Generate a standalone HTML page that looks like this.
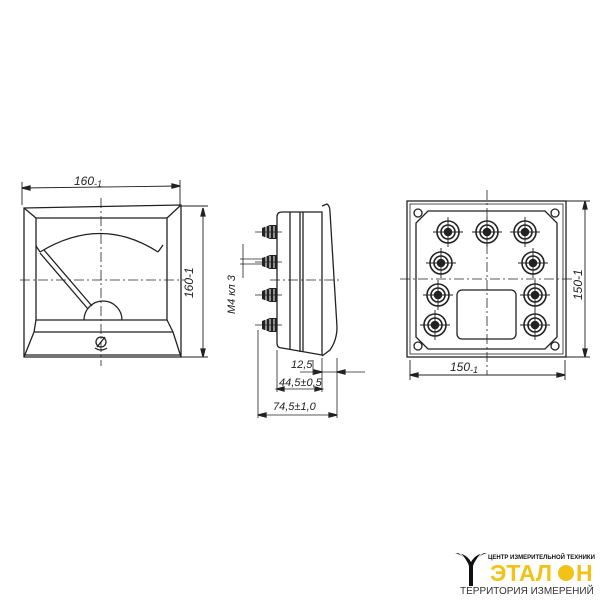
<!DOCTYPE html>
<html><head><meta charset="utf-8"><style>
html,body{margin:0;padding:0;background:#fff}
svg{display:block}
text{font-family:"Liberation Sans","DejaVu Sans",sans-serif;font-style:italic;fill:#222}
text.n{font-style:normal}
</style></head><body>
<svg width="600" height="600" viewBox="0 0 600 600" xmlns="http://www.w3.org/2000/svg">
<g stroke="#222" stroke-width="1.3" fill="none">
<!-- FRONT VIEW -->
<path d="M24 208 L181 205 L181 357 L24 357 Z"/>
<path d="M24 355 L181 355"/>
<path d="M36 218 L167 218 L167 320 L36 320 Z"/>
<path d="M24 208 L36 218 M181 205 L167 218"/>
<path d="M24 357 L34 332 L173 332 L181 357 M36 320 L34 332 M167 320 L173 332"/>
<path d="M40 252 Q101 215 158 252 M40 252 L36 246 M158 252 L163 245"/>
<path d="M40 253 L88 309 M44 250 L92 306"/>
<path d="M84 320 A19 19 0 0 1 122 320"/>
<circle cx="101" cy="342" r="5"/>
<path d="M97 347 L105 337 M95 348 Q101 352 107 348"/>
<g stroke-width="0.8" stroke-dasharray="10 3 2 3">
<path d="M101 198 L101 366"/><path d="M20 280 L185 280"/>
</g>
<path d="M22 188 L180 186 M22 182 L22 205 M180 180 L180 205" stroke-width="0.9"/>
<path d="M22 188 l8 -2 l0 4 Z M180 186 l-8 -2 l0 4 Z" fill="#222"/>
<path d="M203 208 L203 357 M181 206 L208 206 M181 357 L208 357" stroke-width="0.9"/>
<path d="M203 208 l-2 8 l4 0 Z M203 357 l-2 -8 l4 0 Z" fill="#222"/>

<!-- SIDE VIEW -->
<path d="M282 212 L322 212 L322 355 L282 348 Q277 348 277 343 L277 217 Q277 212 282 212 Z"/>
<path d="M290 212 L290 350 M300 212 L300 352 M303 212 L303 352"/>
<path d="M322 206 L327 204 Q330 206 330 212 L337 327 Q337 340 330 350 L322 356"/>
<g fill="#222" stroke="none">
<path d="M262 228 L270 225 L277 225 L277 239 L270 239 L262 236 Z"/>
<path d="M262 258 L270 255 L277 255 L277 269 L270 269 L262 266 Z"/>
<path d="M262 291 L270 288 L277 288 L277 302 L270 302 L262 299 Z"/>
<path d="M262 321 L270 318 L277 318 L277 332 L270 332 L262 329 Z"/>
</g>
<g stroke="#fff" stroke-width="1">
<path d="M266 226 v12 M270 226 v12 M274 226 v12 M266 256 v12 M270 256 v12 M274 256 v12 M266 289 v12 M270 289 v12 M274 289 v12 M266 319 v12 M270 319 v12 M274 319 v12"/>
</g>
<path d="M255 232 L282 232 M255 262 L282 262 M255 295 L282 295 M255 325 L282 325" stroke-width="0.8"/>
<path d="M270 280 L340 280" stroke-width="0.8" stroke-dasharray="10 3 2 3"/>
<path d="M243 244 L243 278 M240 259 L262 259 M240 264 L262 264" stroke-width="0.8"/>
<path d="M258 330 L258 418 M277 350 L277 392 M337 358 L337 418 M322 358 L322 392 M313 360 L313 375" stroke-width="0.8"/>
<path d="M300 372 L365 372 M277 389 L322 389 M258 415 L337 415" stroke-width="0.8"/>
<path d="M322 372 l-8 -2 l0 4 Z M337 372 l8 -2 l0 4 Z M277 389 l7 -2 l0 4 Z M322 389 l-7 -2 l0 4 Z M258 415 l8 -2 l0 4 Z M337 415 l-8 -2 l0 4 Z" fill="#222"/>

<!-- REAR VIEW -->
<rect x="407" y="201" width="159" height="156"/>
<rect x="410" y="204" width="153" height="150" stroke-width="0.8"/>
<path d="M428 211 L545 211 L557 223 L557 337 L545 349 L428 349 L416 337 L416 223 Z"/>
<circle cx="418" cy="213" r="4"/><circle cx="555" cy="213" r="4"/>
<circle cx="418" cy="346" r="4"/><circle cx="555" cy="346" r="4"/>
<rect x="457" y="290" width="59" height="49" rx="5"/>
<g stroke-width="1.6">
<circle cx="448" cy="232" r="11"/><circle cx="448" cy="232" r="7"/><circle cx="448" cy="232" r="3.5" fill="#222"/>
<circle cx="487" cy="232" r="11"/><circle cx="487" cy="232" r="7"/><circle cx="487" cy="232" r="3.5" fill="#222"/>
<circle cx="525" cy="232" r="11"/><circle cx="525" cy="232" r="7"/><circle cx="525" cy="232" r="3.5" fill="#222"/>
<circle cx="441" cy="263" r="11"/><circle cx="441" cy="263" r="7"/><circle cx="441" cy="263" r="3.5" fill="#222"/>
<circle cx="533" cy="263" r="11"/><circle cx="533" cy="263" r="7"/><circle cx="533" cy="263" r="3.5" fill="#222"/>
<circle cx="438" cy="295" r="11"/><circle cx="438" cy="295" r="7"/><circle cx="438" cy="295" r="3.5" fill="#222"/>
<circle cx="535" cy="295" r="11"/><circle cx="535" cy="295" r="7"/><circle cx="535" cy="295" r="3.5" fill="#222"/>
<circle cx="435" cy="325" r="11"/><circle cx="435" cy="325" r="7"/><circle cx="435" cy="325" r="3.5" fill="#222"/>
<circle cx="535" cy="325" r="11"/><circle cx="535" cy="325" r="7"/><circle cx="535" cy="325" r="3.5" fill="#222"/>
</g>
<path d="M433 232h30M448 217v30M472 232h30M487 217v30M510 232h30M525 217v30M426 263h30M441 248v30M518 263h30M533 248v30M423 295h30M438 280v30M520 295h30M535 280v30M420 325h30M435 310v30M520 325h30M535 310v30" stroke-width="0.9"/>
<g stroke-width="0.8" stroke-dasharray="10 3 2 3">
<path d="M487 190 L487 375"/><path d="M400 279 L575 279"/>
</g>
<path d="M410 375 L565 375 M410 360 L410 380 M565 360 L565 380 M585 201 L585 357 M566 201 L590 201 M566 357 L590 357" stroke-width="0.9"/>
<path d="M410 375 l8 -2 l0 4 Z M565 375 l-8 -2 l0 4 Z M585 201 l-2 8 l4 0 Z M585 357 l-2 -8 l4 0 Z" fill="#222"/>
</g>
<text x="74" y="185" font-size="12">160<tspan font-size="9" dy="2">-1</tspan></text>
<text transform="translate(193,298) rotate(-90)" font-size="12">160-1</text>
<text transform="translate(235,314) rotate(-90)" font-size="11">М4 кл 3</text>
<text x="291" y="368" font-size="11">12,5</text>
<text x="279" y="386" font-size="11">44,5±0,5</text>
<text x="273" y="410" font-size="11">74,5±1,0</text>
<text x="450" y="371" font-size="12">150<tspan font-size="9" dy="2">-1</tspan></text>
<text transform="translate(582,300) rotate(-90)" font-size="12">150-1</text>

<!-- LOGO -->
<path d="M455 553 Q466 556 469 566 L469 586 L473 586 L473 566 Q476 556 487 553 Q476 553 471 562 Q466 553 455 553 Z" fill="#111"/>
<path d="M459 553 Q467 558 468 570 M483 553 Q475 558 474 570" stroke="#fff" stroke-width="1" fill="none"/>
<text class="n" x="488" y="559" font-size="6" font-weight="bold" style="fill:#111">ЦЕНТР ИЗМЕРИТЕЛЬНОЙ ТЕХНИКИ</text>
<text class="n" x="490" y="581" font-size="23" font-weight="bold" style="fill:#f2c216">ЭТАЛ</text>
<circle cx="566" cy="573" r="8" fill="#f2c216"/>
<text class="n" x="576" y="581" font-size="23" font-weight="bold" style="fill:#f2c216">Н</text>
<text class="n" x="460" y="594" font-size="10" style="fill:#333">ТЕРРИТОРИЯ ИЗМЕРЕНИЙ</text>
</svg>
</body></html>
